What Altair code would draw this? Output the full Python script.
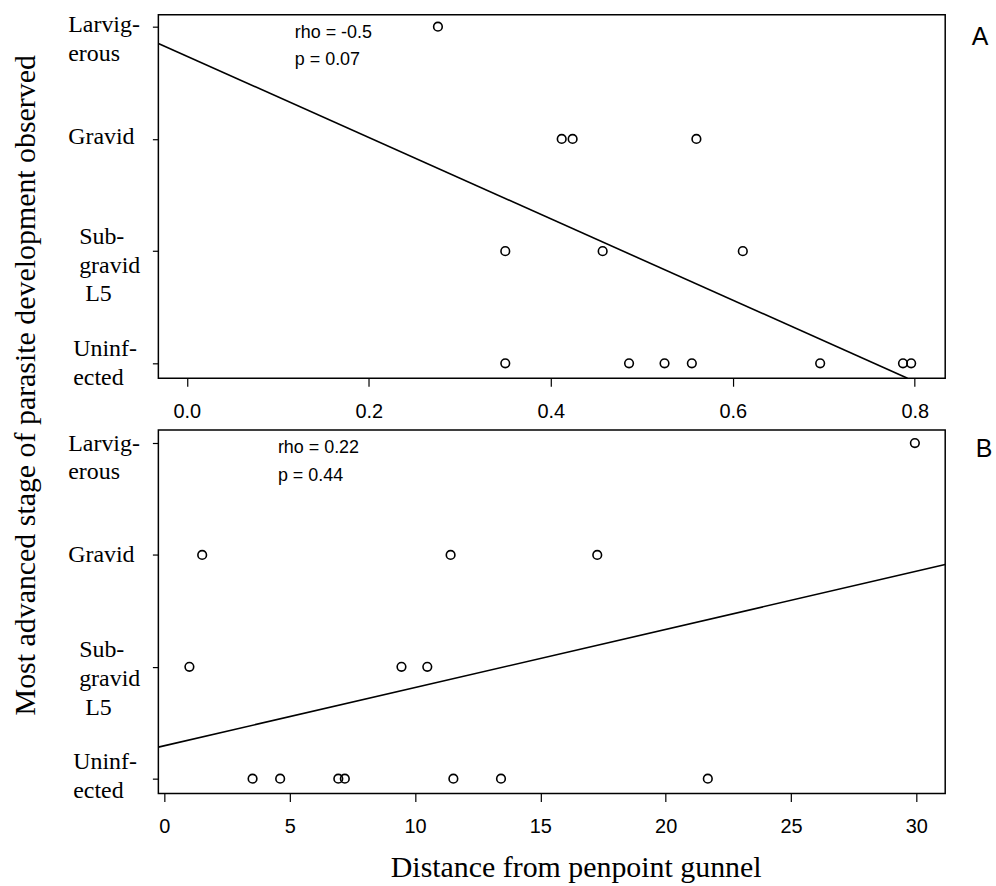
import json
import altair as alt
import pandas as pd

# ---------------- data ----------------
stage_levels = [0, 1, 2, 3]
ZW = "\u200b"   # zero-width lead so the indent spaces survive trimming
NB = "\u00a0"
stage_labels = [
    ["Uninf-", "ected"],
    [ZW + NB + "Sub-", ZW + NB + "gravid", ZW + NB * 2 + "L5"],
    ["Gravid"],
    ["Larvig-", "erous"],
]

# Panel A
a_x = [0.276, 0.412, 0.424, 0.560, 0.350, 0.457, 0.611,
       0.350, 0.486, 0.525, 0.555, 0.696, 0.787, 0.796]
a_stage = [3, 2, 2, 2, 1, 1, 1, 0, 0, 0, 0, 0, 0, 0]
a_fit_x = [-0.0312, 0.792]
a_fit_y = [2.851, -0.133]
a_ticks = [0.0, 0.2, 0.4, 0.6, 0.8]
a_notes = ["rho = -0.5", "p = 0.07"]

# Panel B
b_x = [29.94, 1.51, 11.42, 17.27, 1.0, 9.46, 10.49,
       3.52, 4.62, 6.94, 7.2, 11.53, 13.43, 21.68]
b_stage = [3, 2, 2, 2, 1, 1, 1, 0, 0, 0, 0, 0, 0, 0]
b_fit_x = [-0.238, 31.15]
b_fit_y = [0.282, 1.914]
b_ticks = [0, 5, 10, 15, 20, 25, 30]
b_notes = ["rho = 0.22", "p = 0.44"]

y_title = "Most advanced stage of parasite development observed"
x_title = "Distance from penpoint gunnel"

SERIF = "Liberation Serif"
SANS = "Liberation Sans"
W, H = 790, 365

label_expr = json.dumps(stage_labels) + "[datum.value]"
LOW = "datum.value <= 1"


def y_enc(domain, low_off, high_off):
    return alt.Y(
        "stage:Q",
        scale=alt.Scale(domain=domain, nice=False, zero=False),
        axis=alt.Axis(
            values=stage_levels,
            labelExpr=label_expr,
            title=None,
            grid=False,
            domain=False,
            tickSize=6,
            tickWidth=1.2,
            tickColor="black",
            labelAlign="left",
            labelBaseline="middle",
            labelPadding={"condition": {"test": LOW, "value": 80}, "value": 85},
            labelFont=SERIF,
            labelFontSize=24,
            labelLineHeight=29,
            labelColor="black",
            labelOverlap=False,
            labelFlush=False,
            labelOffset={"condition": {"test": LOW, "value": low_off}, "value": high_off},
        ),
    )


def x_enc(domain, ticks, fmt, title=None, **extra):
    axis_kwargs = dict(
        values=ticks,
        format=fmt,
        grid=False,
        domain=False,
        tickSize=8,
        tickWidth=1.2,
        tickColor="black",
        labelFont=SANS,
        labelFontSize=20,
        labelColor="black",
        labelPadding=15,
        labelFlush=False,
        labelOverlap=False,
    )
    if title:
        axis_kwargs.update(
            title=title,
            titleFont=SERIF,
            titleFontSize=30,
            titleFontWeight="normal",
            titleColor="black",
            **extra,
        )
    else:
        axis_kwargs["title"] = None
    return alt.X(
        "x:Q",
        scale=alt.Scale(domain=domain, nice=False, zero=False),
        axis=alt.Axis(**axis_kwargs),
    )


def note(text, x, y, size=18, font=SANS, **kw):
    return alt.Chart(pd.DataFrame({"t": [text]})).mark_text(
        align=kw.pop("align", "left"), baseline="middle", font=font,
        fontSize=size, color="black", **kw
    ).encode(text="t:N", x=alt.value(x), y=alt.value(y))


def panel(xs, stages, fit_x, fit_y, xdom, ydom, ticks, fmt, notes, note_pos,
          letter, letter_pos, low_off, high_off, title=None, extra=None,
          side=None):
    pts = pd.DataFrame({"x": xs, "stage": stages})
    fit = pd.DataFrame({"x": fit_x, "stage": fit_y})
    xe = x_enc(xdom, ticks, fmt, title, **(extra or {}))
    ye = y_enc(ydom, low_off, high_off)
    points = alt.Chart(pts).mark_point(
        shape="circle", filled=False, size=75, strokeWidth=1.6, color="black", opacity=1
    ).encode(x=xe, y=ye)
    line = alt.Chart(fit).mark_line(color="black", strokeWidth=1.6, clip=True).encode(
        x=alt.X("x:Q", scale=alt.Scale(domain=xdom, nice=False, zero=False)),
        y=alt.Y("stage:Q", scale=alt.Scale(domain=ydom, nice=False, zero=False)),
    )
    layers = [line, points,
              note(notes[0], note_pos[0], note_pos[1]),
              note(notes[1], note_pos[0], note_pos[2]),
              note(letter, letter_pos[0], letter_pos[1], size=25, align="center")]
    if side is not None:
        layers.append(note(side[0], side[1], side[2], size=30, font=SERIF,
                           align="center", angle=270))
    return alt.layer(*layers).properties(width=W, height=H)


top = panel(a_x, a_stage, a_fit_x, a_fit_y, [-0.0312, 0.8334], [-0.133, 3.107],
            a_ticks, ".1f", a_notes, (137, 18, 45), "A", (825, 22),
            -15, -2, side=(y_title, -133, 372))

bottom = panel(b_x, b_stage, b_fit_x, b_fit_y, [-0.238, 31.15], [-0.1335, 3.116],
               b_ticks, "d", b_notes, (120, 18, 46), "B", (829, 19),
               -17, 0,
               title=x_title,
               extra=dict(titleX=419, titleY=83, titleBaseline="alphabetic",
                          titleAlign="center"))

chart = alt.vconcat(top, bottom, spacing=52, bounds="flush").properties(
    padding={"left": 10, "top": 10, "right": 2, "bottom": 2},
    background="white",
).configure_view(stroke="black", strokeWidth=1.5)

chart.save("out.html", embed_options={"renderer": "svg", "actions": False})
